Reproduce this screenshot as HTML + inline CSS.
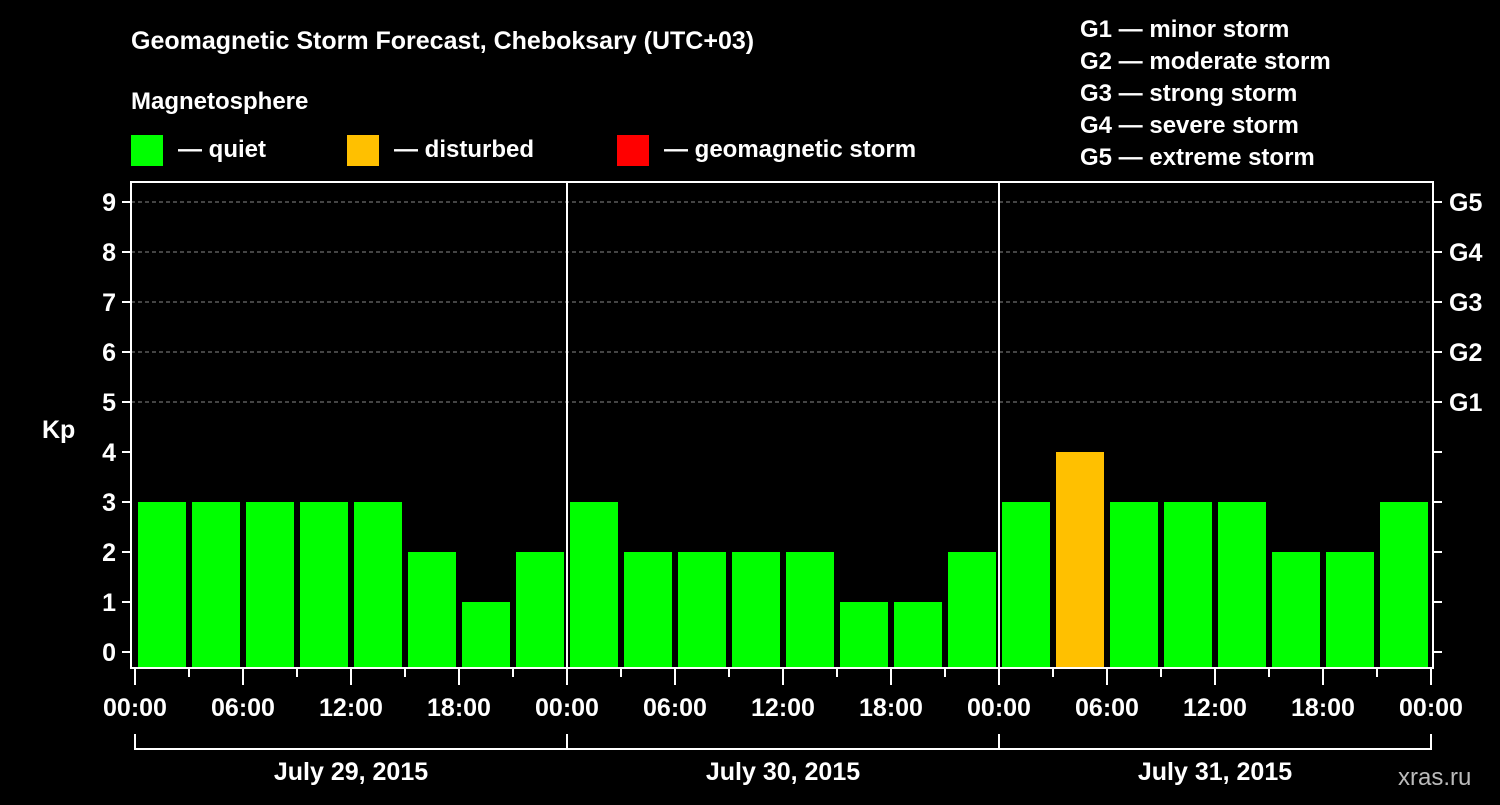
<!DOCTYPE html>
<html><head><meta charset="utf-8"><style>
body{margin:0;background:#000;width:1500px;height:800px;overflow:hidden}
svg text{font-family:"Liberation Sans",sans-serif;font-weight:bold;fill:#fff}
</style></head><body>
<svg id="c" width="1500" height="800" xmlns="http://www.w3.org/2000/svg">
<text x="131" y="49" font-size="25">Geomagnetic Storm Forecast, Cheboksary (UTC+03)</text>
<text x="131" y="109" font-size="24">Magnetosphere</text>
<g><rect x="131" y="135" width="32" height="31" fill="#00ff00"/><text x="178" y="157" font-size="24">— quiet</text></g>
<g><rect x="347" y="135" width="32" height="31" fill="#ffc000"/><text x="394" y="157" font-size="24">— disturbed</text></g>
<g><rect x="617" y="135" width="32" height="31" fill="#ff0000"/><text x="664" y="157" font-size="24">— geomagnetic storm</text></g>
<g font-size="24">
<text x="1080" y="37">G1 — minor storm</text>
<text x="1080" y="69">G2 — moderate storm</text>
<text x="1080" y="101">G3 — strong storm</text>
<text x="1080" y="133">G4 — severe storm</text>
<text x="1080" y="165">G5 — extreme storm</text>
</g>
<text x="42" y="438" font-size="25">Kp</text>
<text x="1398" y="785" font-size="24" fill="#bbb" style="fill:#bbb;font-weight:normal">xras.ru</text>
<g id="g"></g>
</svg>
<script>
const kpValues=[3,3,3,3,3,2,1,2, 3,2,2,2,2,1,1,2, 3,4,3,3,3,2,2,3];
const dayLabels=["July 29, 2015","July 30, 2015","July 31, 2015"];
const xTickLabels=["00:00","06:00","12:00","18:00"];
const yTicks=[0,1,2,3,4,5,6,7,8,9];
const gLabels=["G1","G2","G3","G4","G5"];
const X0=135,DAY=432,L=131,R=1433,T=182,B=668;
const y=v=>652-50*v;
const x=h=>X0+h*DAY/24;
const g=document.getElementById('g');
const NS='http://www.w3.org/2000/svg';
function mk(t,a,p){const e=document.createElementNS(NS,t);for(const k in a)e.setAttribute(k,a[k]);(p||g).appendChild(e);return e;}
// gridlines
for(let v=5;v<=9;v++){const e=mk('line',{x1:L,x2:R,y1:y(v),y2:y(v),stroke:'#888','stroke-dasharray':'4,3','stroke-width':1});

}
// bars
kpValues.forEach((v,i)=>{const c=v>=5?'#ff0000':(v>=4?'#ffc000':'#00ff00');
const b=mk('rect',{x:x(i*3)+3,y:y(v),width:48,height:B-y(v),fill:c});

});
// frame
const f=mk('rect',{x:L,y:T,width:R-L,height:B-T,fill:'none',stroke:'#fff','stroke-width':2});


for(let d=1;d<3;d++){const e=mk('line',{x1:x(d*24),x2:x(d*24),y1:T,y2:B,stroke:'#fff','stroke-width':2});

}
// y ticks
yTicks.forEach(v=>{mk('line',{x1:L-9,x2:L,y1:y(v),y2:y(v),stroke:'#fff','stroke-width':2});
mk('line',{x1:R,x2:R+9,y1:y(v),y2:y(v),stroke:'#fff','stroke-width':2});
const t=mk('text',{x:L-15,y:y(v)+9,'font-size':25,'text-anchor':'end'});t.textContent=v;

});
gLabels.forEach((s,i)=>{const t=mk('text',{x:1449,y:y(5+i)+9,'font-size':25});t.textContent=s;

});
// x ticks
for(let h=0;h<=72;h+=3){const major=h%6===0;
mk('line',{x1:x(h),x2:x(h),y1:B,y2:B+(major?17:9),stroke:'#fff','stroke-width':2});
if(major){const t=mk('text',{x:x(h),y:716,'font-size':25,'text-anchor':'middle'});t.textContent=xTickLabels[(h%24)/6];

}}
// day brackets
mk('line',{x1:x(0),x2:x(72),y1:749,y2:749,stroke:'#fff','stroke-width':2});
for(let d=0;d<=3;d++)mk('line',{x1:x(d*24),x2:x(d*24),y1:734,y2:750,stroke:'#fff','stroke-width':2});
dayLabels.forEach((s,d)=>{const t=mk('text',{x:x(d*24+12),y:780,'font-size':25,'text-anchor':'middle'});t.textContent=s;

});
</script>
</body></html>
